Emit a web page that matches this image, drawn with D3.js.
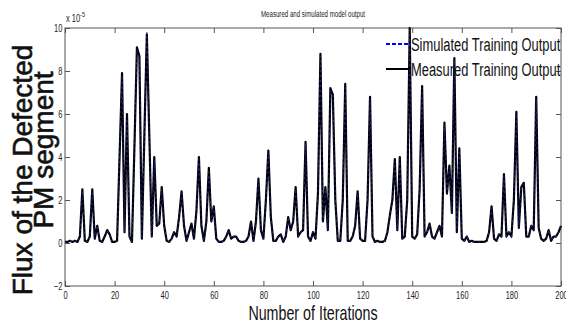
<!DOCTYPE html>
<html>
<head>
<meta charset="utf-8">
<script src="https://cdn.jsdelivr.net/npm/d3@7"></script>
<style>
  body { margin: 0; background: #fff; }
  text { font-family: "Liberation Sans", Arial, sans-serif; }
</style>
</head>
<body>
<div id="chart"></div>
<script>
// Measured vs simulated training output (flux, units of 1e-5), iterations 0..200

const xTicks = [0, 20, 40, 60, 80, 100, 120, 140, 160, 180, 200];
const yTicks = [-2, 0, 2, 4, 6, 8, 10];

const measured = [
  0.05, 0.05, 0.1, 0.05, 0.1, 0.05, 0.3, 2.5, 0.1, 0.05,   // 0-9
  0.3, 2.5, 0.2, 0.8, 0.1, 0.05, 0.3, 0.6, 0.4, 0.05,      // 10-19
  0.05, 0.1, 4.0, 7.9, 0.5, 6.0, 0.3, 0.05, 4.5, 9.1,      // 20-29
  8.7, 0.2, 5.0, 9.7, 5.0, 0.3, 4.0, 0.8, 0.9, 2.6,        // 30-39
  0.8, 0.1, 0.05, 0.2, 0.5, 0.3, 1.2, 2.4, 0.8, 0.1,       // 40-49
  0.5, 0.9, 0.2, 1.5, 4.0, 0.8, 0.1, 1.0, 3.5, 1.0,        // 50-59
  1.7, 0.2, 0.05, 0.05, 0.1, 0.3, 0.6, 0.2, 0.3, 0.3,      // 60-69
  0.1, 0.05, 0.05, 0.1, 0.3, 1.0, 0.1, 1.0, 3.0, 0.6,      // 70-79
  0.2, 2.0, 4.3, 1.2, 0.1, 0.1, 0.3, 0.4, 0.05, 0.3,       // 80-89
  1.2, 0.6, 1.0, 2.6, 0.3, 0.5, 0.6, 4.7, 0.3, 0.1,        // 90-99
  0.5, 0.2, 2.3, 8.8, 1.0, 2.6, 0.6, 7.2, 6.9, 2.0,        // 100-109
  0.1, 0.1, 2.0, 7.4, 0.1, 0.1, 0.3, 0.8, 2.4, 0.2,        // 110-119
  0.1, 0.1, 2.0, 6.8, 0.3, 0.05, 0.1, 0.05, 0.05, 0.1,     // 120-129
  0.5, 1.3, 2.0, 3.9, 0.6, 4.0, 0.2, 0.3, 2.0, 10.0,       // 130-139
  0.3, 0.2, 0.4, 2.5, 7.3, 0.3, 0.5, 0.9, 0.3, 0.2,        // 140-149
  0.5, 0.8, 0.3, 5.6, 2.3, 3.6, 1.4, 8.6, 0.5, 4.4,        // 150-159
  0.2, 0.1, 0.3, 0.05, 0.1, 0.05, 0.05, 0.05, 0.05, 0.05,  // 160-169
  0.1, 0.5, 1.7, 0.2, 0.1, 0.4, 0.3, 3.2, 0.3, 0.5,        // 170-179
  0.3, 2.0, 6.1, 0.7, 2.6, 2.8, 0.3, 0.3, 0.8, 0.6,        // 180-189
  6.8, 0.7, 0.2, 0.1, 0.2, 0.6, 0.1, 0.3, 0.3, 0.5,        // 190-199
  0.8                                                       // 200
];

const simulated = [
  0.05, 0.05, 0.1, 0.05, 0.1, 0.05, 0.3, 2.4, 0.1, 0.05,
  0.3, 2.4, 0.2, 0.8, 0.1, 0.05, 0.3, 0.6, 0.4, 0.05,
  0.05, 0.1, 4.1, 7.8, 0.5, 5.9, 0.3, 0.05, 4.5, 9.0,
  8.6, 0.2, 5.1, 9.8, 5.0, 0.3, 3.9, 0.8, 0.9, 2.5,
  0.8, 0.1, 0.05, 0.2, 0.5, 0.3, 1.2, 2.3, 0.8, 0.1,
  0.5, 0.9, 0.2, 1.5, 4.0, 0.8, 0.1, 1.0, 3.4, 1.0,
  1.7, 0.2, 0.05, 0.05, 0.1, 0.3, 0.6, 0.2, 0.3, 0.3,
  0.1, 0.05, 0.05, 0.1, 0.3, 1.0, 0.1, 1.0, 2.9, 0.6,
  0.2, 2.0, 4.2, 1.2, 0.1, 0.1, 0.3, 0.4, 0.05, 0.3,
  1.2, 0.6, 1.0, 2.5, 0.3, 0.5, 0.6, 4.6, 0.3, 0.1,
  0.5, 0.2, 2.3, 8.7, 1.0, 2.5, 0.6, 7.1, 6.9, 2.0,
  0.1, 0.1, 2.0, 7.3, 0.1, 0.1, 0.3, 0.8, 2.3, 0.2,
  0.1, 0.1, 2.0, 6.7, 0.3, 0.05, 0.1, 0.05, 0.05, 0.1,
  0.5, 1.3, 2.0, 3.8, 0.6, 3.9, 0.2, 0.3, 2.0, 9.9,
  0.3, 0.2, 0.4, 2.5, 7.2, 0.3, 0.5, 0.9, 0.3, 0.2,
  0.5, 0.8, 0.3, 5.5, 2.3, 3.5, 1.4, 8.5, 0.5, 4.3,
  0.2, 0.1, 0.3, 0.05, 0.1, 0.05, 0.05, 0.05, 0.05, 0.05,
  0.1, 0.5, 1.6, 0.2, 0.1, 0.4, 0.3, 3.1, 0.3, 0.5,
  0.3, 2.0, 6.0, 0.7, 2.5, 2.7, 0.3, 0.3, 0.8, 0.6,
  6.7, 0.7, 0.2, 0.1, 0.2, 0.6, 0.1, 0.3, 0.3, 0.5,
  0.8
];

const W = 566, H = 325;
const plot = { left: 65, right: 561, top: 28, bottom: 286 };
const squeeze = 0.68; // the picture's text is horizontally condensed

const svg = d3.select("#chart").append("svg")
  .attr("width", W).attr("height", H);

const x = d3.scaleLinear().domain([0, 200]).range([plot.left, plot.right]);
const y = d3.scaleLinear().domain([-2, 10]).range([plot.bottom, plot.top]);

// frame
svg.append("rect")
  .attr("x", plot.left).attr("y", plot.top)
  .attr("width", plot.right - plot.left).attr("height", plot.bottom - plot.top)
  .attr("fill", "none").attr("stroke", "#555").attr("stroke-width", 1);

function styleAxis(g) {
  g.select(".domain").remove();
  g.selectAll(".tick line").attr("stroke", "#555");
  g.selectAll("text")
    .attr("fill", "#222")
    .style("font-size", "11px");
}

svg.append("g")
  .attr("transform", `translate(0,${plot.bottom})`)
  .call(d3.axisBottom(x).tickValues(xTicks).tickSizeInner(-5).tickSizeOuter(0).tickPadding(5))
  .call(styleAxis)
  .call(g => g.selectAll("text").attr("transform", `scale(${squeeze},1)`));

svg.append("g")
  .attr("transform", `translate(0,${plot.top})`)
  .call(d3.axisTop(x).tickValues(xTicks).tickSizeInner(-5).tickSizeOuter(0).tickFormat(""))
  .call(styleAxis);

svg.append("g")
  .attr("transform", `translate(${plot.left},0)`)
  .call(d3.axisLeft(y).tickValues(yTicks).tickSizeInner(-5).tickSizeOuter(0).tickPadding(4))
  .call(styleAxis)
  .call(g => g.selectAll("text").attr("transform", `scale(${squeeze},1)`));

svg.append("g")
  .attr("transform", `translate(${plot.right},0)`)
  .call(d3.axisRight(y).tickValues(yTicks).tickSizeInner(-5).tickSizeOuter(0).tickFormat(""))
  .call(styleAxis);

// exponent label
const expo = svg.append("text")
  .attr("transform", `translate(66,22) scale(${squeeze},1)`)
  .style("font-size", "11px").attr("fill", "#222");
expo.append("tspan").text("x 10");
expo.append("tspan").attr("dy", -5).style("font-size", "8px").text("-5");

// lines
const line = d3.line()
  .x((d, i) => x(i))
  .y(d => y(d));

svg.append("path")
  .datum(measured)
  .attr("d", line)
  .attr("fill", "none")
  .attr("stroke", "#000")
  .attr("stroke-width", 2.2)
  .attr("stroke-linejoin", "round");

svg.append("path")
  .datum(simulated)
  .attr("d", line)
  .attr("fill", "none")
  .attr("stroke", "#1e1e8c")
  .attr("stroke-width", 1.1)
  .attr("stroke-dasharray", "2,3");

// title
svg.append("text")
  .attr("transform", `translate(313,17) scale(${squeeze},1)`)
  .attr("text-anchor", "middle")
  .style("font-size", "9px").attr("fill", "#222")
  .text("Measured and simulated model output");

// axis titles
svg.append("text")
  .attr("transform", `translate(313,320) scale(${squeeze},1)`)
  .attr("text-anchor", "middle")
  .style("font-size", "21px").attr("fill", "#111")
  .text("Number of Iterations");

const yLabel = [
  { text: "Flux of the Defected", bx: 32, cy: 170 },
  { text: "PM segment", bx: 53, cy: 150 }
];
yLabel.forEach(d => {
  svg.append("text")
    .attr("transform", `translate(${d.bx},${d.cy}) rotate(-90)`)
    .attr("text-anchor", "middle")
    .style("font-size", "28px")
    .attr("fill", "#111").attr("stroke", "#111").attr("stroke-width", 0.6)
    .text(d.text);
});

// legend
const legend = [
  { label: "Simulated Training Output", color: "#0000ff", dash: "4,2", yy: 44 },
  { label: "Measured Training Output", color: "#000", dash: null, yy: 69 }
];
legend.forEach(d => {
  svg.append("line")
    .attr("x1", 386).attr("x2", 411).attr("y1", d.yy).attr("y2", d.yy)
    .attr("stroke", d.color).attr("stroke-width", 2)
    .attr("stroke-dasharray", d.dash);
  svg.append("text")
    .attr("transform", `translate(411,${d.yy + 7}) scale(${squeeze},1)`)
    .style("font-size", "19px").attr("fill", "#111")
    .text(d.label);
});
</script>
</body>
</html>
